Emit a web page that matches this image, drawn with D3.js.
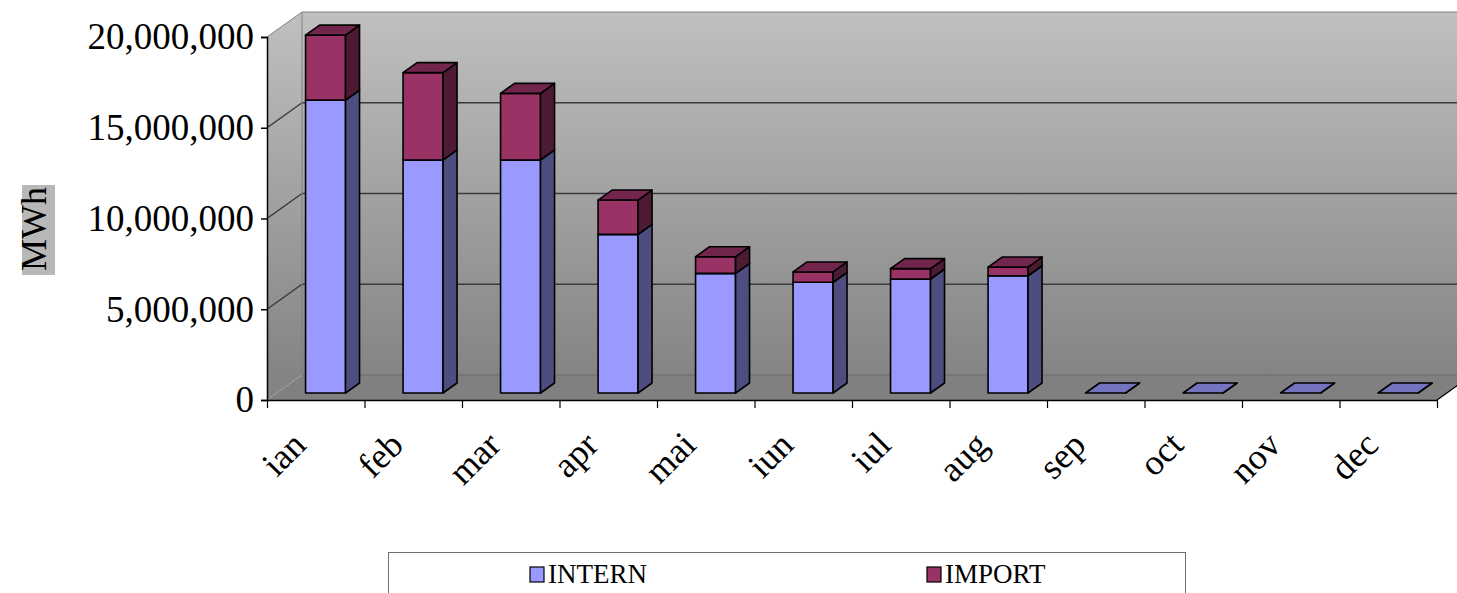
<!DOCTYPE html>
<html>
<head>
<meta charset="utf-8">
<title>MWh pe luni</title>
<script src="https://cdn.jsdelivr.net/npm/d3@7"></script>
<style>
	body { margin: 0; background: #fff; }
	text { font-family: "Liberation Serif", "Times New Roman", serif; }
</style>
</head>
<body>
<div id="chart"></div>
<script type="text/javascript">
	// date
	let months = ["ian", "feb", "mar", "apr", "mai", "iun", "iul", "aug", "sep", "oct", "nov", "dec"];
	let intern = [16140000, 12840000, 12840000, 8740000, 6590000, 6100000, 6280000, 6460000, 0, 0, 0, 0];
	let importv = [3580000, 4810000, 3670000, 1890000, 920000, 570000, 570000, 480000, 0, 0, 0, 0];
	let seriesNames = ["INTERN", "IMPORT"];
	let yTicks = [0, 5000000, 10000000, 15000000, 20000000];

	let W = 1457, H = 593;
	let pLeft = 267, pRight = 1437, pBottom = 400, pTop = 37;
	let depth = {x: 35, y: -25};          // adancimea peretilor
	let fFront = 0.28, fBack = 0.68;       // pozitia barei in adancime

	let colors = {
		INTERN: {front: "#9999ff", side: "#4d4d80", top: "#7373bf"},
		IMPORT: {front: "#993366", side: "#4d1a33", top: "#73264d"}
	};

	let svg = d3.select("#chart").append("svg").attr("width", W).attr("height", H);

	let x = d3.scaleBand().domain(months).range([pLeft, pRight]).paddingInner(0).paddingOuter(0);
	let y = d3.scaleLinear().domain([0, 20000000]).range([pBottom, pTop]);
	let xi = d3.scaleLinear().domain([0, months.length]).range([pLeft, pRight]);

	// gradient pereti
	let grad = svg.append("defs").append("linearGradient")
		.attr("id", "wall").attr("gradientUnits", "userSpaceOnUse")
		.attr("x1", 0).attr("y1", pTop + depth.y).attr("x2", 0).attr("y2", pBottom + depth.y);
	grad.append("stop").attr("offset", 0).attr("stop-color", "#c0c0c0");
	grad.append("stop").attr("offset", 1).attr("stop-color", "#848484");

	let bx = pLeft + depth.x, by = depth.y;
	// perete spate
	svg.append("rect").attr("x", bx).attr("y", pTop + by)
		.attr("width", pRight - pLeft).attr("height", pBottom - pTop)
		.attr("fill", "url(#wall)");
	// perete stanga
	svg.append("polygon")
		.attr("points", [[pLeft, pBottom], [pLeft, pTop], [bx, pTop + by], [bx, pBottom + by]].join(" "))
		.attr("fill", "url(#wall)");
	// podea
	svg.append("polygon")
		.attr("points", [[pLeft, pBottom], [pRight, pBottom], [pRight + depth.x, pBottom + by], [bx, pBottom + by]].join(" "))
		.attr("fill", "#808080");

	// linii de grila
	yTicks.forEach(function(t) {
		let c = (t == 0) ? "#6a6a6a" : (t == 20000000 ? "#808080" : "#3a3a3a");
		let sw = (t == 0 || t == 20000000) ? 1 : 1.5;
		svg.append("line")
			.attr("x1", bx).attr("x2", pRight + depth.x)
			.attr("y1", y(t) + by).attr("y2", y(t) + by)
			.attr("stroke", c).attr("stroke-width", sw);
		svg.append("line")
			.attr("x1", pLeft).attr("y1", y(t))
			.attr("x2", bx).attr("y2", y(t) + by)
			.attr("stroke", t == 0 ? "#a8a8a8" : c).attr("stroke-width", sw)
			.attr("stroke-dasharray", t == 0 ? "2,2" : null);
	});
	svg.append("line").attr("x1", bx).attr("x2", bx)
		.attr("y1", pTop + by).attr("y2", pBottom + by)
		.attr("stroke", "#808080").attr("stroke-width", 1);

	// bare 3D
	let rows = months.map(function(m, i) { return {month: m, INTERN: intern[i], IMPORT: importv[i]}; });
	let stacked = d3.stack().keys(seriesNames)(rows);
	let barW = x.bandwidth() * 0.41;
	let fdx = depth.x * fFront, fdy = depth.y * fFront;
	let sdx = depth.x * (fBack - fFront), sdy = depth.y * (fBack - fFront);

	months.forEach(function(m, i) {
		let x0 = x(m) + (x.bandwidth() - barW) / 2 + fdx;
		let x1 = x0 + barW;
		stacked.forEach(function(s, k) {
			let d = s[i];
			if (d[1] - d[0] == 0 && k > 0) return;
			let yb = y(d[0]) + fdy, yt = y(d[1]) + fdy;
			let col = colors[s.key];
			let g = svg.append("g").attr("stroke", "#000").attr("stroke-width", 1.6).attr("stroke-linejoin", "round");
			g.append("rect").attr("x", x0).attr("y", yt).attr("width", barW).attr("height", yb - yt)
				.attr("fill", col.front);
			g.append("polygon")
				.attr("points", [[x1, yb], [x1 + sdx, yb + sdy], [x1 + sdx, yt + sdy], [x1, yt]].join(" "))
				.attr("fill", col.side);
			g.append("polygon")
				.attr("points", [[x0, yt], [x1, yt], [x1 + sdx, yt + sdy], [x0 + sdx, yt + sdy]].join(" "))
				.attr("fill", col.top);
		});
	});

	// axa Y
	let yAxis = svg.append("g").attr("transform", "translate(" + pLeft + ",0)")
		.call(d3.axisLeft(y).tickValues(yTicks).tickFormat(d3.format(",")).tickSize(6).tickPadding(7));
	yAxis.select(".domain").attr("stroke", "#000").attr("stroke-width", 1.5);
	yAxis.selectAll(".tick line").attr("stroke", "#000").attr("stroke-width", 1.5);
	yAxis.selectAll("text").attr("font-size", 37).attr("font-family", "Liberation Serif").attr("fill", "#000");

	// axa X
	let xAxis = svg.append("g").attr("transform", "translate(0," + pBottom + ")")
		.call(d3.axisBottom(xi).tickValues(d3.range(months.length + 1)).tickFormat("").tickSize(8).tickSizeOuter(0));
	xAxis.select(".domain").attr("stroke", "#000").attr("stroke-width", 1.5);
	xAxis.selectAll(".tick line").attr("stroke", "#000").attr("stroke-width", 1.2);
	svg.append("line").attr("x1", pRight).attr("y1", pBottom).attr("x2", pRight + depth.x).attr("y2", pBottom + by)
		.attr("stroke", "#000").attr("stroke-width", 1.2);

	svg.selectAll(".mlabel").data(months).enter().append("text")
		.attr("class", "mlabel")
		.attr("transform", function(d) { return "translate(" + (x(d) + x.bandwidth() / 2 - 8) + ",447) rotate(-45)"; })
		.attr("text-anchor", "end")
		.attr("font-size", 36)
		.text(function(d) { return d; });

	// titlu axa Y
	svg.append("rect").attr("x", 22).attr("y", 185).attr("width", 33).attr("height", 90).attr("fill", "#b8b8b8");
	svg.append("text").attr("transform", "translate(46,229) rotate(-90)")
		.attr("text-anchor", "middle").attr("font-size", 36).text("MWh");

	// legenda
	svg.append("rect").attr("x", 388.5).attr("y", 552.5).attr("width", 797).attr("height", 60)
		.attr("fill", "#fff").attr("stroke", "#707070").attr("stroke-width", 1);
	let legX = [530, 927];
	seriesNames.forEach(function(n, k) {
		svg.append("rect").attr("x", legX[k]).attr("y", 567).attr("width", 14).attr("height", 15)
			.attr("fill", colors[n].front).attr("stroke", "#000").attr("stroke-width", 1.2);
		svg.append("text").attr("x", legX[k] + 18).attr("y", 583)
			.attr("font-size", 27).text(n);
	});
</script>
</body>
</html>
